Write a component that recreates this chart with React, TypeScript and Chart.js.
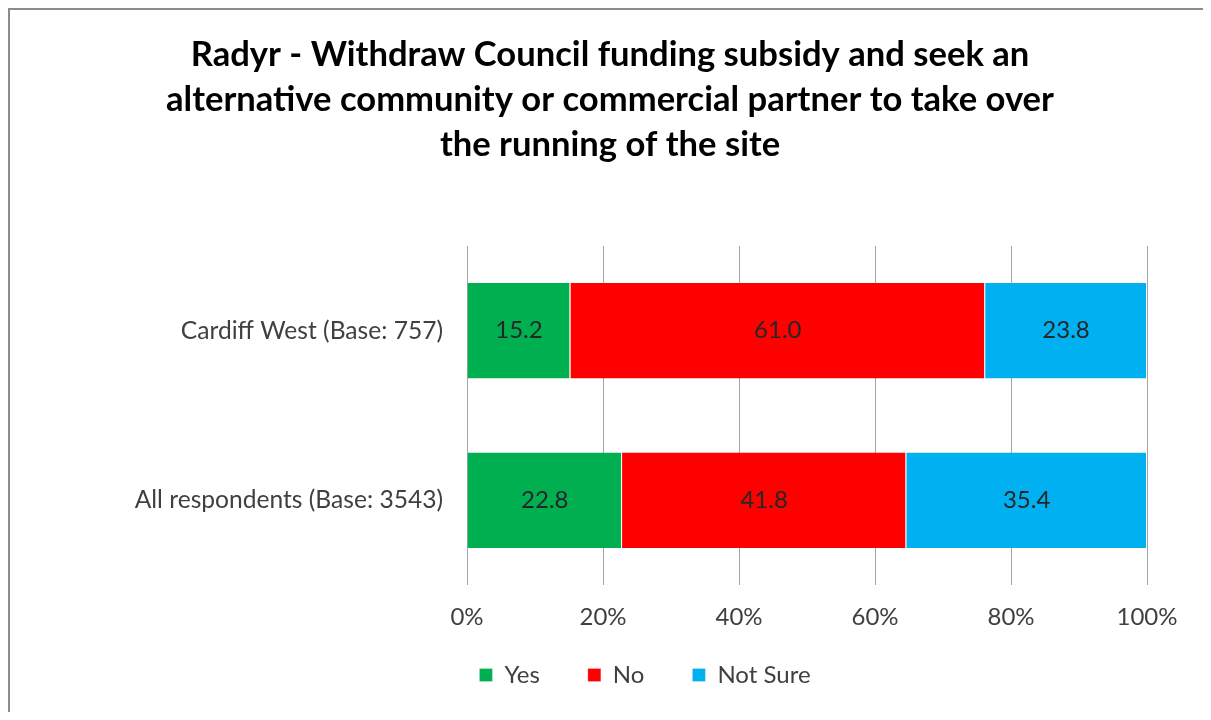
import React, { useEffect, useRef } from "react";
import { Chart, registerables } from "chart.js";

Chart.register(...registerables);

const titleLines = [
  "Radyr - Withdraw Council funding subsidy and seek an",
  "alternative community or commercial partner to take over",
  "the running of the site",
];
const categories = ["Cardiff West (Base: 757)", "All respondents (Base: 3543)"];
const seriesNames = ["Yes", "No", "Not Sure"];
const yesValues = [15.2, 22.8];
const noValues = [61.0, 41.8];
const notSureValues = [23.8, 35.4];
const tickValues = [0, 20, 40, 60, 80, 100];
const colors = ["#00B050", "#FF0000", "#00B0F0"];

const FONT = "Lato, 'Noto Sans', sans-serif";

const dataLabelPlugin = {
  id: "dataLabels",
  afterDatasetsDraw(chart: any) {
    const ctx = chart.ctx;
    ctx.save();
    ctx.font = `24px ${FONT}`;
    ctx.fillStyle = "#262626";
    ctx.textAlign = "center";
    ctx.textBaseline = "middle";
    chart.data.datasets.forEach((ds: any, i: number) => {
      const meta = chart.getDatasetMeta(i);
      meta.data.forEach((bar: any, j: number) => {
        const v = ds.data[j];
        const cx = (bar.x + bar.base) / 2;
        ctx.fillText(v.toFixed(1), cx, bar.y);
      });
    });
    ctx.restore();
  },
};

const shiftPlugin = {
  id: "boxShift",
  afterLayout(chart: any) {
    const lg = chart.legend;
    if (lg) {
      lg.left += 63;
      lg.right += 63;
      lg.top -= 15;
      lg.bottom -= 15;
    }
    const tb = chart.titleBlock;
    if (tb) {
      tb.left += 28;
      tb.right += 28;
    }
  },
};

export default function App() {
  const ref = useRef<HTMLCanvasElement | null>(null);
  useEffect(() => {
    if (!ref.current) return;
    const chart = new Chart(ref.current, {
      type: "bar",
      data: {
        labels: categories,
        datasets: [
          { label: seriesNames[0], data: yesValues, backgroundColor: colors[0] },
          { label: seriesNames[1], data: noValues, backgroundColor: colors[1] },
          { label: seriesNames[2], data: notSureValues, backgroundColor: colors[2] },
        ].map((d) => ({
          ...d,
          barPercentage: 0.562,
          categoryPercentage: 1,
          borderWidth: { top: 0, bottom: 0, left: 0, right: 1 },
          borderColor: "#FFFFFF",
          borderSkipped: false,
        })),
      },
      options: {
        indexAxis: "y",
        animation: false,
        responsive: false,
        maintainAspectRatio: false,
        layout: { padding: { left: 7, right: 56, top: 0, bottom: 0 } },
        scales: {
          x: {
            stacked: true,
            min: 0,
            max: 100,
            afterBuildTicks(scale: any) {
              scale.ticks = tickValues.map((v) => ({ value: v }));
            },
            afterFit(scale: any) {
              scale.height = 45;
            },
            grid: { color: "#A6A6A6", lineWidth: 1, drawTicks: false },
            border: { display: false },
            ticks: {
              padding: 18,
              color: "#404040",
              font: { family: FONT, size: 24 },
              callback: (v: any) => `${v}%`,
            },
          },
          y: {
            stacked: true,
            afterFit(scale: any) {
              scale.width = 450;
            },
            grid: { display: false, drawTicks: false },
            border: { display: false },
            ticks: {
              padding: 24,
              color: "#404040",
              font: { family: FONT, size: 24.6 },
            },
          },
        },
        plugins: {
          title: {
            display: true,
            text: titleLines,
            color: "#000000",
            font: { family: FONT, size: 34.6, weight: "bold", lineHeight: 45 / 34.6 },
            padding: { top: 22, bottom: 79 },
          },
          legend: {
            display: true,
            position: "bottom",
            labels: {
              boxWidth: 13,
              boxHeight: 13,
              padding: 48,
              color: "#404040",
              font: { family: FONT, size: 24 },
            },
          },
          tooltip: { enabled: false },
        },
      } as any,
      plugins: [dataLabelPlugin, shiftPlugin],
    });
    return () => chart.destroy();
  }, []);

  return (
    <div
      style={{
        width: 1195,
        height: 704,
        boxSizing: "border-box",
        borderTop: "2px solid #8C8C8C",
        borderLeft: "2px solid #8C8C8C",
        overflow: "hidden",
        background: "#FFFFFF",
      }}
    >
      <canvas ref={ref} width={1193} height={702} style={{ display: "block" }} />
    </div>
  );
}
